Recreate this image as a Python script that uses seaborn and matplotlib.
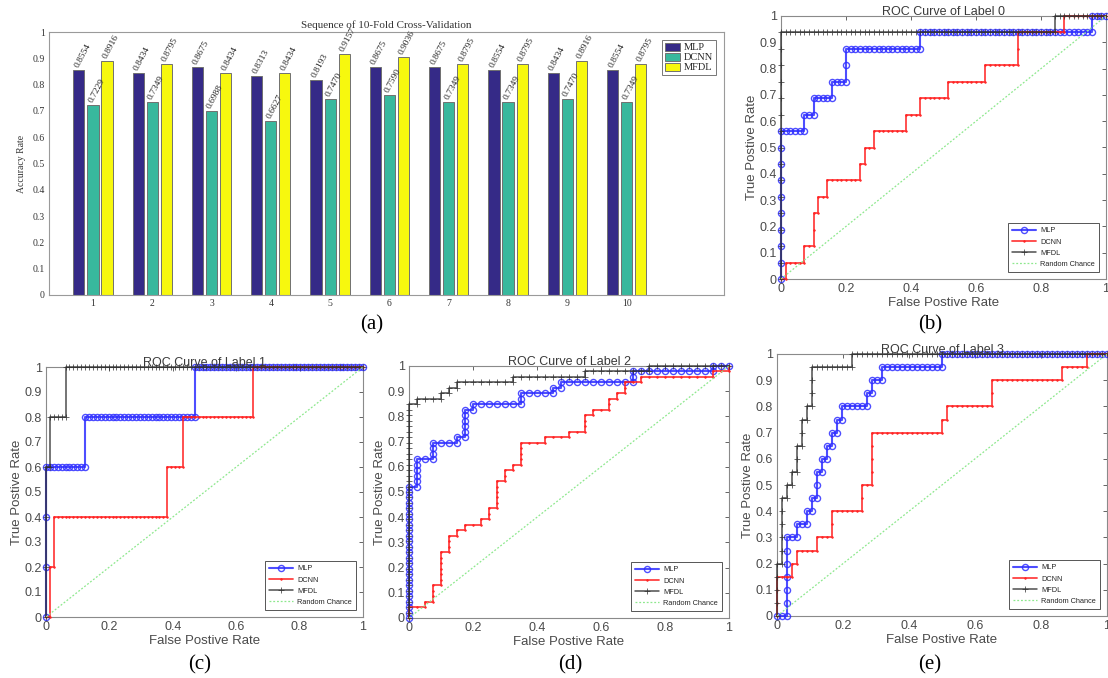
import numpy as np
import pandas as pd
import matplotlib
matplotlib.use("Agg")
import matplotlib.pyplot as plt
import seaborn as sns
from matplotlib.ticker import FuncFormatter, MultipleLocator

# ---------------- panel (a): 10-fold accuracies ----------------
folds = ["1", "2", "3", "4", "5", "6", "7", "8", "9", "10"]
models = ["MLP", "DCNN", "MFDL"]
mlp_acc = [0.8554, 0.8434, 0.8675, 0.8313, 0.8193, 0.8675, 0.8675, 0.8554, 0.8434, 0.8554]
dcnn_acc = [0.7229, 0.7349, 0.6988, 0.6627, 0.7470, 0.7590, 0.7349, 0.7349, 0.7470, 0.7349]
mfdl_acc = [0.8916, 0.8795, 0.8434, 0.8434, 0.9157, 0.9036, 0.8795, 0.8795, 0.8916, 0.8795]
bar_colors = ["#352A87", "#38B89D", "#F7F80E"]

# ---------------- panels (b)-(e): ROC curves ----------------
# test labels ranked by score, run-length coded (+k = k positives, -k = k negatives)
mlp_label0 = [9, -5, 1, -2, 1, -4, 1, -3, 2, -16, 1, -37, 1, -3]
dcnn_label0 = [-1, 1, -4, 1, -2, 2, -1, 1, -2, 1, -7, 1, -1, 1, -2, 1, -7, 1, -3, 1,
               -6, 1, -8, 1, -7, 2, -10, 1, -9]
mfdl_label0 = [15, -59, 1, -11]

mlp_label1 = [3, -10, 1, -28, 1, -43]
dcnn_label1 = [-1, 1, -1, 1, -29, 1, -4, 1, -18, 1, -28]
mfdl_label1 = [3, -1, 1, -4, 1, -76]

mlp_label2 = [24, -1, 5, -2, 3, -3, 1, -1, 5, -1, 1, -6, 2, -4, 1, -1, 1, -9, 2, -10, 1, -2]
dcnn_label2 = [2, -2, 1, -1, 3, -1, 6, -1, 3, -1, 1, -1, 1, -2, 1, -1, 2, -1, 5, -1, 2, -1,
               1, -1, 4, -3, 1, -3, 1, -2, 3, -1, 1, -2, 2, -1, 1, -1, 2, -2, 1, -9, 1, -2, 1]
mfdl_label2 = [39, -1, 1, -3, 1, -1, 1, -1, 1, -7, 1, -9, 1, -8, 1, -10]

mlp_label3 = [-2, 6, -2, 1, -2, 1, -1, 1, -1, 2, -1, 1, -1, 1, -1, 1, -1, 1, -1, 1, -5, 1,
              -1, 1, -2, 1, -12, 1, -33]
dcnn_label3 = [3, -3, 1, -1, 1, -4, 1, -3, 2, -6, 2, -2, 4, -14, 1, -1, 1, -9, 2, -14, 1, -5, 1, -4]
mfdl_label3 = [4, -1, 5, -1, 1, -1, 1, -1, 2, -1, 2, -1, 1, -1, 3, -8, 1, -51]

chance_x = [0, 1]
chance_y = [0, 1]

roc_titles = ["ROC Curve of Label 0", "ROC Curve of Label 1",
              "ROC Curve of Label 2", "ROC Curve of Label 3"]
panel_tags = ["(a)", "(b)", "(c)", "(d)", "(e)"]

# ---------------- style ----------------
sns.set_theme(style="white")
plt.rcParams["font.family"] = ["Liberation Sans", "DejaVu Sans"]
plt.rcParams["axes.linewidth"] = 0.8
plt.rcParams["legend.numpoints"] = 1

SERIF = ["Liberation Serif", "DejaVu Serif"]
SANS = ["Liberation Sans", "DejaVu Sans"]

fig = plt.figure(figsize=(11.08, 6.78), dpi=100)
W, H = 1108.0, 678.0


def add_ax(left, top, right, bottom):
    return fig.add_axes([left / W, 1 - bottom / H, (right - left) / W, (bottom - top) / H])


# ---------------- panel (a) ----------------
ax = add_ax(49, 32, 724, 295)
df = pd.DataFrame({
    "Fold": folds * 3,
    "Model": [m for m in models for _ in folds],
    "Accuracy": mlp_acc + dcnn_acc + mfdl_acc,
})
sns.barplot(data=df, x="Fold", y="Accuracy", hue="Model", order=folds, hue_order=models,
            palette=bar_colors, width=0.71, gap=0.2, errorbar=None,
            edgecolor="#707070", linewidth=0.7, ax=ax, saturation=1)
for cont, vals in zip(ax.containers, [mlp_acc, dcnn_acc, mfdl_acc]):
    for bar, v in zip(cont, vals):
        x = bar.get_x() + bar.get_width() * 0.62
        ax.text(x, bar.get_height() + 0.004, f"{v:.4f}", rotation=62, rotation_mode="anchor",
                ha="left", va="bottom", fontsize=6.8, family=SERIF, color="#222222")
ax.set_xlim(-0.74, 10.64)
ax.set_ylim(0, 1)
ax.yaxis.set_major_locator(MultipleLocator(0.1))
ax.yaxis.set_major_formatter(FuncFormatter(lambda v, p: f"{v:g}"))
ax.set_xlabel("")
ax.set_ylabel("Accuracy Rate", family=SERIF, fontsize=7, labelpad=5, color="#333333")
ax.set_title("Sequence of 10-Fold Cross-Validation", family=SERIF, fontsize=8, pad=3,
             color="#333333")
ax.tick_params(direction="in", length=3, width=0.6, labelsize=7, pad=3, colors="#333333")
for lab in ax.get_xticklabels() + ax.get_yticklabels():
    lab.set_family(SERIF)
for sp in ax.spines.values():
    sp.set_color("#9a9a9a")
    sp.set_linewidth(0.8)
leg = ax.legend(loc="upper right", prop={"family": SERIF, "size": 7.5},
                frameon=True, fancybox=False, edgecolor="#777777", framealpha=1,
                handlelength=1.4, handleheight=0.75, labelspacing=0.05, borderpad=0.25,
                handletextpad=0.4, borderaxespad=0.8)
leg.get_frame().set_linewidth(0.7)

# ---------------- ROC panels ----------------

def roc_points(runs):
    labels = np.concatenate([np.full(abs(r), 1 if r > 0 else 0) for r in runs])
    tp = np.concatenate([[0], np.cumsum(labels)])
    fp = np.concatenate([[0], np.cumsum(1 - labels)])
    return fp / fp[-1], tp / tp[-1]


roc_data = [
    (mlp_label0, dcnn_label0, mfdl_label0),
    (mlp_label1, dcnn_label1, mfdl_label1),
    (mlp_label2, dcnn_label2, mfdl_label2),
    (mlp_label3, dcnn_label3, mfdl_label3),
]
roc_boxes = [
    (781, 16, 1106, 279),
    (46, 367, 363, 617),
    (409, 366, 729, 618),
    (777, 354, 1107, 616),
]

for (runs_mlp, runs_dcnn, runs_mfdl), box, title in zip(roc_data, roc_boxes, roc_titles):
    ax = add_ax(*box)
    fx, fy = roc_points(runs_mlp)
    sns.lineplot(x=fx, y=fy, sort=False, estimator=None, ax=ax, label="MLP",
                 color="#2f2fff", linewidth=1.5, marker="o", markersize=4.4,
                 markerfacecolor="none", markeredgecolor="#2f2fff", markeredgewidth=1.0,
                 alpha=0.85, clip_on=False, zorder=3)
    fx, fy = roc_points(runs_dcnn)
    sns.lineplot(x=fx, y=fy, sort=False, estimator=None, ax=ax, label="DCNN",
                 color="#ff2020", linewidth=1.3, marker=".", markersize=2.5,
                 markeredgecolor="#ff2020", markeredgewidth=0.5,
                 alpha=0.85, clip_on=False, zorder=4)
    fx, fy = roc_points(runs_mfdl)
    sns.lineplot(x=fx, y=fy, sort=False, estimator=None, ax=ax, label="MFDL",
                 color="#303030", linewidth=1.1, marker="+", markersize=4,
                 markeredgecolor="#303030", markeredgewidth=0.6,
                 alpha=0.85, clip_on=False, zorder=5)
    sns.lineplot(x=chance_x, y=chance_y, sort=False, estimator=None, ax=ax,
                 label="Random Chance", color="#8de88d", linewidth=0.9,
                 linestyle=(0, (1.5, 1.5)), zorder=6)
    ax.set_xlim(0, 1)
    ax.set_ylim(0, 1)
    ax.xaxis.set_major_locator(MultipleLocator(0.2))
    ax.yaxis.set_major_locator(MultipleLocator(0.1))
    fmt = FuncFormatter(lambda v, p: f"{v:g}")
    ax.xaxis.set_major_formatter(fmt)
    ax.yaxis.set_major_formatter(fmt)
    ax.tick_params(direction="in", length=3, width=0.6, labelsize=9, pad=3,
                   colors="#4a4a4a", top=True, right=True)
    ax.set_xlabel("False Postive Rate", fontsize=9.5, color="#4a4a4a", labelpad=1)
    ax.set_ylabel("True Postive Rate", fontsize=9.5, color="#4a4a4a", labelpad=1)
    ax.set_title(title, fontsize=9, color="#3a3a3a", pad=1)
    for sp in ax.spines.values():
        sp.set_color("#8a8a8a")
        sp.set_linewidth(0.8)
    leg = ax.legend(loc="lower right", prop={"family": SANS, "size": 5.3},
                    frameon=True, fancybox=False, edgecolor="#555555", framealpha=1,
                    handlelength=3.2, labelspacing=0.55, borderpad=0.6, numpoints=1,
                    handletextpad=0.6, borderaxespad=0.9)
    leg.get_frame().set_linewidth(0.7)

# ---------------- panel tags ----------------
tag_pos = [(372, 325), (930, 325), (200, 665), (570, 665), (930, 665)]
for tag, (tx, ty) in zip(panel_tags, tag_pos):
    fig.text(tx / W, 1 - ty / H, tag, ha="center", va="center", fontsize=15,
             family=SERIF, color="#000000")

fig.savefig("out.png", dpi=100)
